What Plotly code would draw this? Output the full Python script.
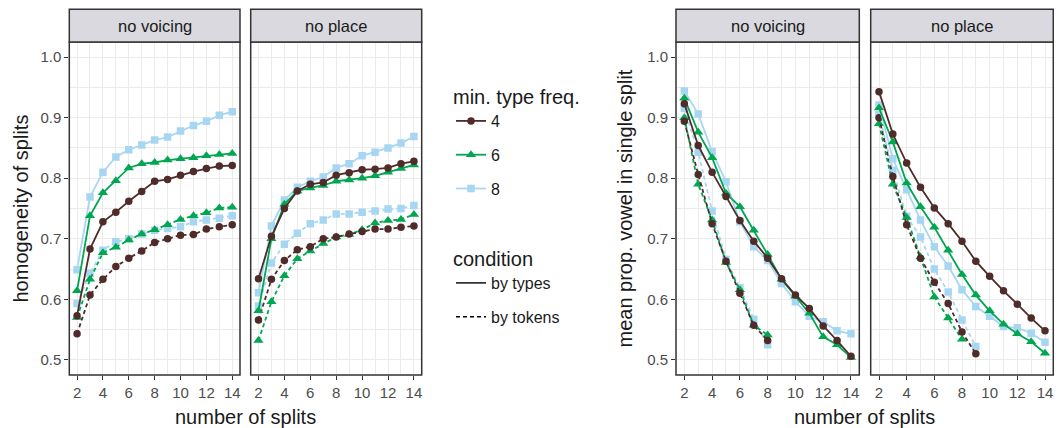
import plotly.graph_objects as go

# ---------------- data ----------------
splits = [2, 3, 4, 5, 6, 7, 8, 9, 10, 11, 12, 13, 14]
x_ticks = [2, 4, 6, 8, 10, 12, 14]
y_ticks = [0.5, 0.6, 0.7, 0.8, 0.9, 1.0]
freqs = ["4", "6", "8"]
conditions = ["by types", "by tokens"]
facets = ["no voicing", "no place"]

# homogeneity of splits
hom_novoicing_types_4 = [0.573, 0.683, 0.728, 0.744, 0.762, 0.778, 0.795, 0.798, 0.805, 0.811, 0.816, 0.820, 0.821]
hom_novoicing_types_6 = [0.614, 0.738, 0.776, 0.796, 0.817, 0.824, 0.826, 0.830, 0.832, 0.834, 0.837, 0.839, 0.841]
hom_novoicing_types_8 = [0.649, 0.769, 0.810, 0.835, 0.847, 0.855, 0.863, 0.868, 0.878, 0.887, 0.894, 0.904, 0.910]
hom_novoicing_tokens_4 = [0.543, 0.607, 0.633, 0.654, 0.668, 0.680, 0.694, 0.700, 0.706, 0.707, 0.716, 0.720, 0.723]
hom_novoicing_tokens_6 = [0.570, 0.633, 0.677, 0.686, 0.698, 0.708, 0.715, 0.723, 0.732, 0.738, 0.743, 0.751, 0.752]
hom_novoicing_tokens_8 = [0.593, 0.643, 0.681, 0.695, 0.700, 0.708, 0.714, 0.717, 0.720, 0.728, 0.731, 0.734, 0.738]

hom_noplace_types_4 = [0.634, 0.704, 0.750, 0.779, 0.790, 0.793, 0.805, 0.809, 0.814, 0.815, 0.817, 0.824, 0.828]
hom_noplace_types_6 = [0.581, 0.700, 0.757, 0.779, 0.784, 0.788, 0.795, 0.797, 0.800, 0.804, 0.810, 0.816, 0.822]
hom_noplace_types_8 = [0.611, 0.721, 0.764, 0.785, 0.795, 0.802, 0.817, 0.824, 0.837, 0.843, 0.850, 0.858, 0.869]
hom_noplace_tokens_4 = [0.566, 0.633, 0.664, 0.682, 0.687, 0.700, 0.703, 0.708, 0.712, 0.716, 0.716, 0.719, 0.721]
hom_noplace_tokens_6 = [0.532, 0.596, 0.639, 0.667, 0.680, 0.692, 0.703, 0.707, 0.715, 0.726, 0.730, 0.732, 0.740]
hom_noplace_tokens_8 = [0.589, 0.660, 0.691, 0.709, 0.725, 0.731, 0.741, 0.741, 0.744, 0.746, 0.749, 0.750, 0.755]

# mean prop. vowel in single split
vow_novoicing_types_4 = [0.923, 0.854, 0.810, 0.770, 0.730, 0.696, 0.668, 0.634, 0.607, 0.585, 0.556, 0.532, 0.506]
vow_novoicing_types_6 = [0.932, 0.876, 0.834, 0.775, 0.753, 0.714, 0.674, 0.633, 0.605, 0.577, 0.538, 0.525, 0.504]
vow_novoicing_types_8 = [0.944, 0.906, 0.844, 0.794, 0.728, 0.687, 0.664, 0.626, 0.596, 0.572, 0.563, 0.548, 0.543]
vow_novoicing_tokens_4 = [0.894, 0.806, 0.725, 0.663, 0.610, 0.557, 0.532]
vow_novoicing_tokens_6 = [0.900, 0.790, 0.731, 0.661, 0.616, 0.557, 0.541]
vow_novoicing_tokens_8 = [0.915, 0.843, 0.746, 0.666, 0.619, 0.567, 0.525]

vow_noplace_types_4 = [0.943, 0.873, 0.825, 0.785, 0.751, 0.725, 0.696, 0.663, 0.638, 0.614, 0.592, 0.569, 0.548]
vow_noplace_types_6 = [0.916, 0.860, 0.792, 0.753, 0.719, 0.681, 0.641, 0.607, 0.581, 0.559, 0.543, 0.530, 0.511]
vow_noplace_types_8 = [0.921, 0.832, 0.781, 0.731, 0.687, 0.655, 0.616, 0.588, 0.572, 0.555, 0.553, 0.544, 0.529]
vow_noplace_tokens_4 = [0.900, 0.803, 0.723, 0.668, 0.628, 0.593, 0.546, 0.510]
vow_noplace_tokens_6 = [0.890, 0.790, 0.735, 0.670, 0.604, 0.569, 0.534]
vow_noplace_tokens_8 = [0.905, 0.813, 0.737, 0.703, 0.650, 0.612, 0.566, 0.522]

# ---------------- style ----------------
# the page body adds an 8 px margin, so the figure is drawn 8 px smaller
OFF = 8
W, H = 1054, 420
FONT = "Liberation Sans, Arial, Helvetica, sans-serif"
colors = {"4": "#4f2b29", "6": "#00a650", "8": "#a7d6f2"}
symbols = {"4": "circle", "6": "triangle-up", "8": "square"}
msize = {"4": 7.5, "6": 9, "8": 7.5}
dashes = {"by types": "solid", "by tokens": "4px,3px"}
LW = 1.8

panels_px = [(69.3, 240.0), (250.7, 421.7), (676.0, 859.3), (870.7, 1053.3)]
top_px, bottom_px, strip_top_px = 42.0, 375.0, 9.3


def fx(p):
    return (p - OFF) / W


def fy(p):
    return 1 - (p - OFF) / H


panel_data = [
    {"types": {"4": hom_novoicing_types_4, "6": hom_novoicing_types_6, "8": hom_novoicing_types_8},
     "tokens": {"4": hom_novoicing_tokens_4, "6": hom_novoicing_tokens_6, "8": hom_novoicing_tokens_8}},
    {"types": {"4": hom_noplace_types_4, "6": hom_noplace_types_6, "8": hom_noplace_types_8},
     "tokens": {"4": hom_noplace_tokens_4, "6": hom_noplace_tokens_6, "8": hom_noplace_tokens_8}},
    {"types": {"4": vow_novoicing_types_4, "6": vow_novoicing_types_6, "8": vow_novoicing_types_8},
     "tokens": {"4": vow_novoicing_tokens_4, "6": vow_novoicing_tokens_6, "8": vow_novoicing_tokens_8}},
    {"types": {"4": vow_noplace_types_4, "6": vow_noplace_types_6, "8": vow_noplace_types_8},
     "tokens": {"4": vow_noplace_tokens_4, "6": vow_noplace_tokens_6, "8": vow_noplace_tokens_8}},
]

fig = go.Figure()

for i, pdata in enumerate(panel_data):
    xa = "x" if i == 0 else f"x{i+1}"
    ya = "y" if i == 0 else f"y{i+1}"
    for cond_key, cond in (("tokens", "by tokens"), ("types", "by types")):
        for f in ["8", "6", "4"]:
            vals = pdata[cond_key][f]
            fig.add_trace(go.Scatter(
                x=splits[:len(vals)], y=vals, xaxis=xa, yaxis=ya,
                mode="lines+markers", showlegend=False,
                line=dict(color=colors[f], width=LW, dash=dashes[cond]),
                marker=dict(symbol=symbols[f], size=msize[f], color=colors[f]),
                hoverinfo="skip"))

# legend entries
for f in freqs:
    fig.add_trace(go.Scatter(
        x=[None], y=[None], mode="lines+markers", name=f, legend="legend",
        legendgroup="f" + f,
        line=dict(color=colors[f], width=LW),
        marker=dict(symbol=symbols[f], size=msize[f], color=colors[f])))
for c in conditions:
    fig.add_trace(go.Scatter(
        x=[None], y=[None], mode="lines", name=c, legend="legend2",
        legendgroup="c" + c,
        line=dict(color="#000000", width=1.4, dash=dashes[c])))

axis_common = dict(
    showgrid=True, gridcolor="#ebebeb", gridwidth=1.2, zeroline=False,
    ticks="outside", ticklen=4, tickwidth=1.1, tickcolor="#333333",
    tickfont=dict(family=FONT, size=15, color="#4d4d4d"), showline=False,
)

layout = dict(
    width=W, height=H, margin=dict(l=0, r=0, t=0, b=0),
    paper_bgcolor="white", plot_bgcolor="white",
    font=dict(family=FONT, color="#1a1a1a"),
    shapes=[], annotations=[],
)

for i, (l, r) in enumerate(panels_px):
    xk = "xaxis" if i == 0 else f"xaxis{i+1}"
    yk = "yaxis" if i == 0 else f"yaxis{i+1}"
    ya = "y" if i == 0 else f"y{i+1}"
    xa = "x" if i == 0 else f"x{i+1}"
    layout[xk] = dict(axis_common, domain=[fx(l), fx(r)], range=[1.4, 14.6],
                      tickmode="array", tickvals=x_ticks, anchor=ya,
                      minor=dict(tickvals=[3, 5, 7, 9, 11, 13], showgrid=True,
                                 gridcolor="#ebebeb", gridwidth=0.6, ticks=""))
    layout[yk] = dict(axis_common, domain=[fy(bottom_px), fy(top_px)], range=[0.475, 1.025],
                      tickmode="array", tickvals=y_ticks,
                      ticktext=[f"{v:.1f}" for v in y_ticks], anchor=xa,
                      showticklabels=(i in (0, 2)),
                      ticks="outside" if i in (0, 2) else "",
                      minor=dict(tickvals=[0.55, 0.65, 0.75, 0.85, 0.95], showgrid=True,
                                 gridcolor="#ebebeb", gridwidth=0.6, ticks=""))
    # panel border
    layout["shapes"].append(dict(type="rect", xref="paper", yref="paper",
                                 x0=fx(l), x1=fx(r), y0=fy(bottom_px), y1=fy(top_px),
                                 line=dict(color="#333333", width=1.5), layer="above"))
    # strip
    layout["shapes"].append(dict(type="rect", xref="paper", yref="paper",
                                 x0=fx(l), x1=fx(r), y0=fy(top_px), y1=fy(strip_top_px),
                                 fillcolor="#d9d9df", line=dict(color="#333333", width=1.5),
                                 layer="above"))
    layout["annotations"].append(dict(
        text=facets[i % 2], xref="paper", yref="paper",
        x=fx((l + r) / 2), y=fy((top_px + strip_top_px) / 2),
        showarrow=False, xanchor="center", yanchor="middle",
        font=dict(family=FONT, size=16.5, color="#1a1a1a")))

# axis titles
for txt, xc in (("number of splits", (69.3 + 421.7) / 2), ("number of splits", (676 + 1053.3) / 2)):
    layout["annotations"].append(dict(
        text=txt, xref="paper", yref="paper", x=fx(xc), y=fy(416.5),
        showarrow=False, xanchor="center", yanchor="middle",
        font=dict(family=FONT, size=20, color="#1a1a1a")))
for txt, xc in (("homogeneity of splits", 20), ("mean prop. vowel in single split", 624)):
    layout["annotations"].append(dict(
        text=txt, xref="paper", yref="paper", x=fx(xc), y=fy((top_px + bottom_px) / 2),
        showarrow=False, xanchor="center", yanchor="middle", textangle=-90,
        font=dict(family=FONT, size=20, color="#1a1a1a")))

layout["legend"] = dict(
    title=dict(text="min. type freq.", font=dict(family=FONT, size=20, color="#1a1a1a")),
    x=fx(451), y=fy(78), xanchor="left", yanchor="top",
    font=dict(family=FONT, size=16, color="#1a1a1a"),
    bgcolor="rgba(0,0,0,0)", tracegroupgap=10, itemwidth=30)
layout["legend2"] = dict(
    title=dict(text="condition", font=dict(family=FONT, size=20, color="#1a1a1a")),
    x=fx(451), y=fy(240), xanchor="left", yanchor="top",
    font=dict(family=FONT, size=16, color="#1a1a1a"),
    bgcolor="rgba(0,0,0,0)", tracegroupgap=10, itemwidth=30)

fig.update_layout(**layout)
fig.write_html("out.html")
